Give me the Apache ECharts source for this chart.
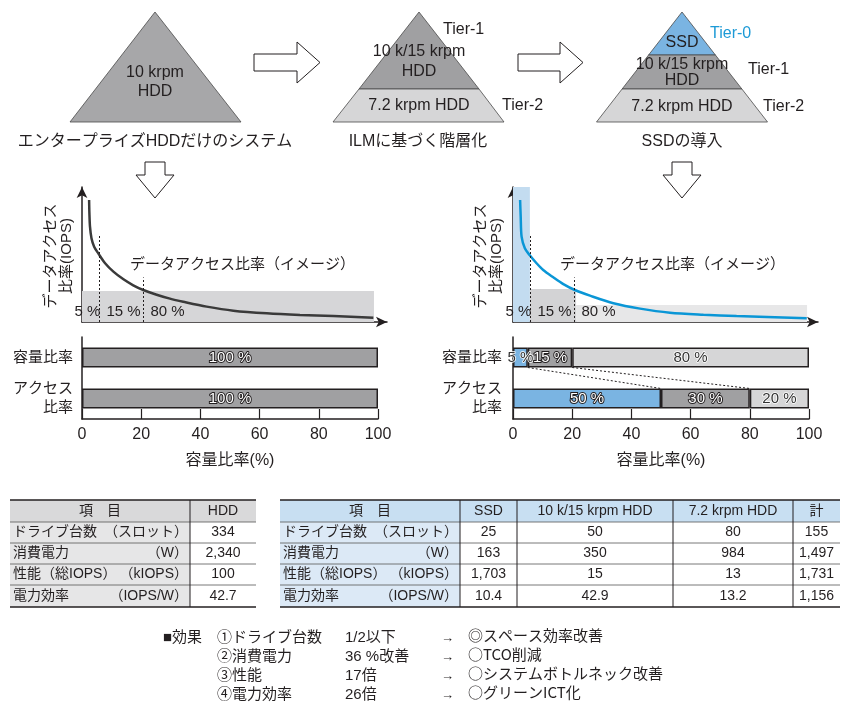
<!DOCTYPE html>
<html>
<head>
<meta charset="utf-8">
<script src="https://cdn.jsdelivr.net/npm/echarts@6/dist/echarts.min.js"></script>
<style>
  html, body { margin: 0; padding: 0; background: #fff; }
  #main { width: 847px; height: 703px; }
</style>
</head>
<body>
<div id="main"></div>
<script>
var FONT = '"Liberation Sans", "Noto Sans CJK JP", sans-serif';
var CJK = '"Noto Sans CJK JP", "Liberation Sans", sans-serif';
var INK = '#231f20';

// data access curves (x: capacity %, y: access, image only)
var curveHdd = [[2.4, 90.4], [2.5, 80.5], [2.7, 70.6], [3.2, 62], [4.1, 55.8], [5.6, 50.5], [7.8, 43.5], [10.6, 37.3],
  [14, 31.6], [17.3, 27.2], [20.7, 23.7], [25.2, 20.2], [29.7, 17.3], [34.2, 15], [42.1, 11.4], [51.1, 8.4],
  [62.4, 6.4], [73.6, 5.2], [84.9, 4.4], [98.4, 3.2]];
var curveSsd = [[2.4, 90.4], [2.6, 78], [2.9, 63.2], [4, 54.6], [5.6, 49.6], [7.8, 43.9], [10.2, 38.5], [13.6, 33.1],
  [17, 28.1], [20.9, 23.7], [26, 19.5], [33.9, 13.9], [42.9, 9.9], [53, 6.9], [64.3, 5.4], [75.5, 4.4], [99.2, 2.7]];
var splitX = [5.7, 20.6];
var splitTop = [64, 33];
var splitLabels = ['5 %', '15 %', '80 %'];
var bandHdd = [[0, 98.6, 23]];
var bandSsd = [[0, 5.7, 100], [5.7, 21.3, 24.4], [21.3, 99.3, 12.6]];

// capacity / access ratio bars
var rowNames = ['容量比率', 'アクセス\n比率'];
var hddShare = [100, 100];
var tierCap = [5, 15, 80];
var tierAcc = [50, 30, 20];

// tables
var tableItems = ['ドライブ台数', '消費電力', '性能（総IOPS）', '電力効率'];
var tableUnits = ['（スロット）', '（W）', '（kIOPS）', '（IOPS/W）'];
var hddHead = ['HDD'];
var hddVals = [['334', '2,340', '100', '42.7']];
var tierHead = ['SSD', '10 k/15 krpm HDD', '7.2 krpm HDD', '計'];
var tierVals = [
  ['25', '163', '1,703', '10.4'],
  ['50', '350', '15', '42.9'],
  ['80', '984', '13', '13.2'],
  ['155', '1,497', '1,731', '1,156']
];

// effects list
var effectItems = ['①ドライブ台数', '②消費電力', '③性能', '④電力効率'];
var effectGains = ['1/2以下', '36 %改善', '17倍', '26倍'];
var effectResults = ['◎スペース効率改善', '○TCO削減', '○システムボトルネック改善', '○グリーンICT化'];

var chart = echarts.init(document.getElementById('main'));

function txt(x, y, s, opt) {
  opt = opt || {};
  return {
    type: 'text', x: x, y: y, rotation: opt.rotation || 0, z: 10,
    style: {
      text: s, fill: opt.color || INK, fontSize: opt.size || 16, fontFamily: opt.font || FONT,
      align: opt.align || 'center', verticalAlign: 'middle', lineHeight: opt.lh || 18
    }
  };
}
function poly(points, fill) {
  return { type: 'polygon', shape: { points: points }, style: { fill: fill, stroke: '#4a4a4a', lineWidth: 0.8 } };
}
function arrowRight(x0, xh, xt, yc) {
  return { type: 'polygon', shape: { points: [[x0, yc - 8.5], [xh, yc - 8.5], [xh, yc - 20.5], [xt, yc], [xh, yc + 20.5], [xh, yc + 8.5], [x0, yc + 8.5]] },
    style: { fill: '#fff', stroke: INK, lineWidth: 1 } };
}
function arrowDown(cx) {
  return { type: 'polygon', shape: { points: [[cx - 10, 162], [cx + 10, 162], [cx + 10, 175], [cx + 19, 175], [cx, 198], [cx - 19, 175], [cx - 10, 175]] },
    style: { fill: '#fff', stroke: INK, lineWidth: 1 } };
}
function hline(x1, x2, y, w, c) {
  return { type: 'line', shape: { x1: x1, y1: y, x2: x2, y2: y }, style: { stroke: c, lineWidth: w } };
}
function vline(x, y1, y2) {
  return { type: 'line', shape: { x1: x, y1: y1, x2: x, y2: y2 }, style: { stroke: INK, lineWidth: 1 } };
}

var rowsY = [500, 522, 543, 564, 585, 607];
function buildTable(cols, headFill, itemFill, heads, vals) {
  var g = [];
  var x0 = cols[0], x1 = cols[cols.length - 1];
  g.push({ type: 'rect', shape: { x: x0, y: rowsY[0], width: x1 - x0, height: rowsY[1] - rowsY[0] }, style: { fill: headFill } });
  g.push({ type: 'rect', shape: { x: x0, y: rowsY[1], width: cols[1] - x0, height: rowsY[5] - rowsY[1] }, style: { fill: itemFill } });
  rowsY.forEach(function (y, i) {
    var edge = (i === 0 || i === rowsY.length - 1);
    g.push(hline(x0, x1, y, edge ? 1.5 : 0.8, edge ? INK : '#555'));
  });
  for (var c = 1; c < cols.length - 1; c++) g.push(vline(cols[c], rowsY[0], rowsY[5]));
  g.push(txt((cols[0] + cols[1]) / 2, (rowsY[0] + rowsY[1]) / 2, '項　目', { size: 14 }));
  heads.forEach(function (h, j) {
    g.push(txt((cols[j + 1] + cols[j + 2]) / 2, (rowsY[0] + rowsY[1]) / 2, h, { size: 14 }));
  });
  tableItems.forEach(function (item, r) {
    var yc = (rowsY[r + 1] + rowsY[r + 2]) / 2;
    g.push(txt(x0 + 3, yc, item, { size: 14, align: 'left' }));
    g.push(txt(cols[1] - 2, yc, tableUnits[r], { size: 14, align: 'right' }));
    vals.forEach(function (col, j) {
      g.push(txt((cols[j + 1] + cols[j + 2]) / 2, yc, col[r], { size: 14 }));
    });
  });
  return g;
}

var graphics = [
  // pyramids
  poly([[155, 12], [70, 122], [241, 122]], '#a7a7a9'),
  txt(155, 82, '10 krpm\nHDD', { lh: 19 }),
  poly([[419, 12], [359, 89], [479, 89]], '#a0a0a2'),
  poly([[359, 89], [333, 122], [504, 122], [479, 89]], '#d6d6d7'),
  txt(419, 62, '10 k/15 krpm\nHDD', { lh: 20 }),
  txt(419, 106, '7.2 krpm HDD'),
  txt(443, 30, 'Tier-1', { align: 'left' }),
  txt(502, 106, 'Tier-2', { align: 'left' }),
  poly([[682, 12], [648.6, 55], [715.4, 55]], '#7ab4e2'),
  poly([[648.6, 55], [622.1, 89], [741.9, 89], [715.4, 55]], '#a0a0a2'),
  poly([[622.1, 89], [596.5, 122], [767.5, 122], [741.9, 89]], '#d6d6d7'),
  txt(682, 43, 'SSD'),
  txt(682, 73, '10 k/15 krpm\nHDD', { lh: 16 }),
  txt(682, 107, '7.2 krpm HDD'),
  txt(710, 34, 'Tier-0', { align: 'left', color: '#1d9ad6' }),
  txt(748, 70, 'Tier-1', { align: 'left' }),
  txt(763, 107, 'Tier-2', { align: 'left' }),
  txt(155, 142, 'エンタープライズHDDだけのシステム'),
  txt(418, 142, 'ILMに基づく階層化'),
  txt(682, 142, 'SSDの導入'),
  arrowRight(254, 297, 320, 62.5),
  arrowRight(518, 560, 583, 62.5),
  arrowDown(155),
  arrowDown(682),
  // curve chart annotations
  txt(59, 256, 'データアクセス\n比率(IOPS)', { size: 15, lh: 16, rotation: Math.PI / 2 }),
  txt(489, 256, 'データアクセス\n比率(IOPS)', { size: 15, lh: 16, rotation: Math.PI / 2 }),
  txt(130, 265, 'データアクセス比率（イメージ）', { size: 15, align: 'left' }),
  txt(560, 265, 'データアクセス比率（イメージ）', { size: 15, align: 'left' })
];
graphics = graphics.concat(buildTable([10, 190, 256], '#d9d9da', '#e6e6e7', hddHead, hddVals));
graphics = graphics.concat(buildTable([280, 460, 517, 673, 793, 840], '#c8dff2', '#dce9f6', tierHead, tierVals));
var effY = [638, 657, 676, 695];
graphics.push(txt(163, effY[0], '■効果', { size: 15, align: 'left' }));
effectItems.forEach(function (s, i) {
  graphics.push(txt(217, effY[i], s, { size: 15, align: 'left' }));
  graphics.push(txt(345, effY[i], effectGains[i], { size: 15, align: 'left' }));
  graphics.push(txt(441, effY[i], '→', { size: 13, align: 'left' }));
  graphics.push(txt(468, effY[i] - 3, effectResults[i], { size: 15, align: 'left', font: CJK }));
});

function curveAxis(gi, max) {
  return {
    gridIndex: gi, type: 'value', min: 0, max: max,
    axisLine: { show: true, symbol: ['none', 'arrow'], symbolSize: [8, 11], lineStyle: { color: INK, width: 1.5 } },
    axisTick: { show: false }, axisLabel: { show: false }, splitLine: { show: false }
  };
}
function barXAxis(gi) {
  return {
    gridIndex: gi, type: 'value', min: 0, max: 100, interval: 20,
    axisLine: { show: true, lineStyle: { color: INK, width: 1.5 } },
    axisTick: { show: true, inside: true, length: 10, lineStyle: { color: INK, width: 1.2 } },
    axisLabel: { fontSize: 16, color: INK, margin: 8, fontFamily: FONT },
    splitLine: { show: false },
    name: '容量比率(%)', nameLocation: 'middle', nameGap: 34,
    nameTextStyle: { fontSize: 16, color: INK, fontFamily: FONT }
  };
}
function barYAxis(gi, margin) {
  return {
    gridIndex: gi, type: 'category', data: rowNames, inverse: true,
    axisLine: { show: true, lineStyle: { color: INK, width: 1.5 } },
    axisTick: { show: false },
    axisLabel: { fontSize: 15, color: INK, margin: margin, align: 'right', lineHeight: 19, fontFamily: FONT }
  };
}

function curveSeries(gi, data, color, bands, bandColors) {
  var labelX = [0].concat(splitX);
  return {
    type: 'line', xAxisIndex: gi, yAxisIndex: gi, data: data, smooth: 0.3,
    showSymbol: false, silent: true, z: 3,
    lineStyle: { color: color, width: 2.5 },
    markArea: {
      silent: true,
      data: bands.map(function (b, i) {
        return [{ coord: [b[0], 0], itemStyle: { color: bandColors[i] } }, { coord: [b[1], b[2]] }];
      })
    },
    markLine: {
      silent: true, symbol: ['none', 'none'], label: { show: false },
      lineStyle: { color: INK, type: [2, 2], width: 1 },
      data: splitX.map(function (x, i) { return [{ coord: [x, 0] }, { coord: [x, splitTop[i]] }]; })
    },
    markPoint: {
      silent: true, symbol: 'circle', symbolSize: 1, itemStyle: { color: 'rgba(0,0,0,0)' },
      data: splitLabels.map(function (t, i) {
        return {
          name: t, coord: [labelX[i], 7.4],
          label: { show: true, position: 'right', distance: 7, offset: [i === 0 ? -15 : 0, 0], formatter: '{b}', color: INK, fontSize: 15, fontFamily: FONT }
        };
      })
    }
  };
}

var whiteLabel = { show: true, position: 'inside', formatter: '{c} %', color: '#fff', textBorderColor: INK, textBorderWidth: 2, fontSize: 15, fontFamily: FONT };
var darkLabel = { show: true, position: 'inside', formatter: '{c} %', color: '#333', textBorderColor: '#fff', textBorderWidth: 1.5, fontSize: 15, fontFamily: FONT };
var tierColors = ['#7ab4e2', '#a0a0a2', '#d6d6d7'];

var series = [
  curveSeries(0, curveHdd, '#3a3a3a', bandHdd, ['#d6d6d8']),
  curveSeries(2, curveSsd, '#0a96d6', bandSsd, ['#c3dcf0', '#d3d3d5', '#e7e7e8']),
  {
    type: 'bar', xAxisIndex: 1, yAxisIndex: 1, stack: 'hdd', barWidth: 20, data: hddShare, silent: true,
    itemStyle: { color: '#a0a0a2', borderColor: INK, borderWidth: 1.5 }, label: whiteLabel
  }
];
tierCap.forEach(function (c, i) {
  var capLabel = i === 1 ? whiteLabel : darkLabel;
  var accLabel = i === 2 ? darkLabel : whiteLabel;
  series.push({
    type: 'bar', xAxisIndex: 3, yAxisIndex: 3, stack: 'tier', barWidth: 20, silent: true,
    data: [{ value: c, label: capLabel }, { value: tierAcc[i], label: accLabel }],
    itemStyle: { color: tierColors[i], borderColor: INK, borderWidth: 1.5 }, label: whiteLabel
  });
});
// dashed connectors between tier boundaries of the two bars
var edges = [];
var capSum = 0, accSum = 0;
for (var i = 0; i < tierCap.length - 1; i++) {
  capSum += tierCap[i]; accSum += tierAcc[i];
  edges.push([capSum, accSum, 0]);
}
series.push({
  type: 'custom', xAxisIndex: 3, yAxisIndex: 3, silent: true, data: edges,
  encode: { x: [0, 1], y: 2 },
  renderItem: function (params, api) {
    var a = api.coord([api.value(0), 0]);
    var b = api.coord([api.value(1), 1]);
    return {
      type: 'line', shape: { x1: a[0], y1: a[1] + 10, x2: b[0], y2: b[1] - 10 },
      style: { stroke: INK, lineWidth: 1, lineDash: [2, 2] }
    };
  },
  z: 5
});

chart.setOption({
  animation: false,
  backgroundColor: '#fff',
  textStyle: { fontFamily: FONT },
  grid: [
    { left: 82, top: 187, width: 305, height: 135 },
    { left: 82, top: 337, width: 296, height: 82 },
    { left: 513, top: 187, width: 305, height: 135 },
    { left: 513, top: 337, width: 296, height: 82 }
  ],
  xAxis: [curveAxis(0, 103), barXAxis(1), curveAxis(2, 103), barXAxis(3)],
  yAxis: [curveAxis(0, 100), barYAxis(1, 9), curveAxis(2, 100), barYAxis(3, 11)],
  series: series,
  graphic: graphics
});
</script>
</body>
</html>
